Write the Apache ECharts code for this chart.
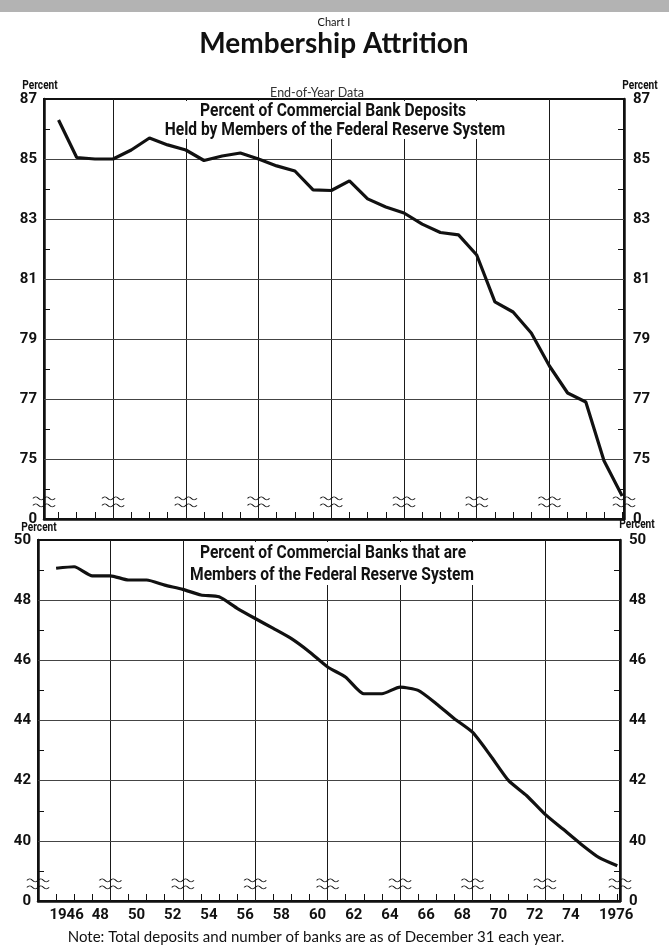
<!DOCTYPE html>
<html><head><meta charset="utf-8">
<script src="https://cdn.jsdelivr.net/npm/echarts@6/dist/echarts.min.js"></script>
<style>html,body{margin:0;padding:0;background:#fff}#c{width:669px;height:949px}</style>
</head><body><div id="c"></div>
<script>
// ---- data ----
const years = [1946,1947,1948,1949,1950,1951,1952,1953,1954,1955,1956,1957,1958,1959,1960,1961,
               1962,1963,1964,1965,1966,1967,1968,1969,1970,1971,1972,1973,1974,1975,1976,1977];
const depositShare = [86.3,85.05,85.0,85.0,85.3,85.7,85.47,85.3,84.95,85.1,85.2,85.0,84.77,84.6,83.97,83.95,
                      84.27,83.67,83.4,83.2,82.83,82.55,82.47,81.8,80.24,79.9,79.2,78.1,77.2,76.9,74.94,73.77];
const bankShare = [49.06,49.11,48.81,48.81,48.67,48.67,48.5,48.36,48.17,48.11,47.73,47.39,47.06,46.72,46.28,45.78,
                   45.44,44.89,44.89,45.11,45.0,44.56,44.06,43.61,42.83,42.0,41.5,40.89,40.39,39.89,39.44,39.17];
const xTickYears = [1946,1947,1948,1949,1950,1951,1952,1953,1954,1955,1956,1957,1958,1959,1960,1961,
                    1962,1963,1964,1965,1966,1967,1968,1969,1970,1971,1972,1973,1974,1975,1976,1977];
const xLabelYears = [1946,1948,1950,1952,1954,1956,1958,1960,1962,1964,1966,1968,1970,1972,1974,1976];
const verticalGridYears = [1949,1953,1957,1961,1965,1969,1973];
const topLabelValues = [73,75,77,79,81,83,85,87];
const topTickValues = [74,75,76,77,78,79,80,81,82,83,84,85,86];
const topGridValues = [75,77,79,81,83,85];
const bottomLabelValues = [38,40,42,44,46,48,50];
const bottomTickValues = [39,40,41,42,43,44,45,46,47,48,49];
const bottomGridValues = [40,42,44,46,48];

// ---- styling ----
const INK = '#111';
const BOLD = "Roboto,'Liberation Sans',sans-serif";
const GEO = "Lato,'DejaVu Sans',sans-serif";
const topX = {min:1945.2, max:1977.1};
const botX = {min:1945.0, max:1977.15};
const topY = {min:73, max:87, breakAt:73.57};
const botY = {min:38, max:50, breakAt:38.57};
const wave = 'path://M0,3 Q2.5,0 5,3 T10,3 T15,3 T20,3 M0,10 Q2.5,7 5,10 T10,10 T15,10 T20,10';
const lab = {fontFamily:BOLD, fontWeight:'bold', fontSize:15, color:INK};

function xAxis(gi, ext, showLabels){
  return {type:'value', gridIndex:gi, min:ext.min, max:ext.max,
    axisLine:{show:true, onZero:false, lineStyle:{color:INK, width:2.5}},
    axisTick:{show:true, inside:true, length:7, customValues:xTickYears, lineStyle:{color:INK, width:1}},
    axisLabel:{show:showLabels, customValues:xLabelYears, align:'center', margin:7,
      showMinLabel:true, showMaxLabel:true, hideOverlap:false,
      color:INK, fontFamily:BOLD, fontWeight:'bold', fontSize:15,
      formatter:v => v===1946 ? '{b|1946}' : (v===1976 ? '{c|1976}' : '{a|'+String(v).slice(2)+'}'),
      rich:{a:Object.assign({padding:[0,0,0,16]}, lab),
            b:Object.assign({padding:[0,0,0,21]}, lab),
            c:Object.assign({padding:[0,0,0,34]}, lab)}},
    splitLine:{show:false}};
}
function yAxis(gi, ext, pos, labels, ticks){
  return {type:'value', gridIndex:gi, position:pos, min:ext.min, max:ext.max,
    axisLine:{show:true, onZero:false, lineStyle:{color:INK, width:2.5}},
    axisTick:{show:true, inside:true, length:6, customValues:ticks, lineStyle:{color:INK, width:1}},
    axisLabel:{customValues:labels, margin:pos==='left'?7:9, color:INK, fontFamily:BOLD,
      showMinLabel:true, showMaxLabel:true,
      fontWeight:'bold', fontSize:15, formatter:v => v===ext.min ? '0' : String(v)},
    splitLine:{show:false}};
}
function gridLines(hVals){
  return {silent:true, symbol:['none','none'], animation:false, label:{show:false},
    data:[...verticalGridYears.map(y=>({xAxis:y, lineStyle:{color:'#1a1a1a', width:1, type:'solid'}})),
          ...hVals.map(v=>({yAxis:v, lineStyle:{color:'#444', width:1, type:'solid'}}))]};
}
function breaks(ext, yb){
  const xs = [ext.min, ...verticalGridYears, ext.max];
  return {silent:true, animation:false, symbol:wave, symbolSize:[22,10], label:{show:false},
    itemStyle:{color:'rgba(0,0,0,0)', borderColor:INK, borderWidth:1},
    data:xs.map(x=>({coord:[x, yb]}))};
}
function txt(x, y, text, font, sx, fill){
  return {type:'text', x:x, y:y, scaleX:sx||1, z:50,
    style:{text:text, font:font, fill:fill||INK, align:'center', verticalAlign:'middle'}};
}

const chart = echarts.init(document.getElementById('c'), null, {renderer:'canvas'});
chart.setOption({
  backgroundColor:'#fff',
  animation:false,
  grid:[
    {left:44, top:99, width:580, height:420, show:true, borderColor:INK, borderWidth:2, backgroundColor:'transparent'},
    {left:38, top:540, width:582, height:361, show:true, borderColor:INK, borderWidth:2, backgroundColor:'transparent'}
  ],
  xAxis:[xAxis(0, topX, false), xAxis(1, botX, true)],
  yAxis:[yAxis(0, topY, 'left', topLabelValues, topTickValues), yAxis(0, topY, 'right', topLabelValues, topTickValues),
         yAxis(1, botY, 'left', bottomLabelValues, bottomTickValues), yAxis(1, botY, 'right', bottomLabelValues, bottomTickValues)],
  series:[
    {type:'line', xAxisIndex:0, yAxisIndex:0, data:years.map((y,i)=>[y, depositShare[i]]),
     showSymbol:false, lineStyle:{color:INK, width:3.2}, z:5,
     markLine:gridLines(topGridValues), markPoint:breaks(topX, topY.breakAt)},
    {type:'line', xAxisIndex:1, yAxisIndex:2, data:years.map((y,i)=>[y, bankShare[i]]),
     showSymbol:false, smooth:0.2, lineStyle:{color:INK, width:3.2}, z:5,
     markLine:gridLines(bottomGridValues), markPoint:breaks(botX, botY.breakAt)}
  ],
  graphic:[
    {type:'rect', left:0, top:0, shape:{width:669, height:12}, style:{fill:'#b3b3b3'}, z:50},
    txt(334, 22, 'Chart I', '11px '+GEO),
    txt(334, 44, 'Membership Attrition', 'bold 28px '+GEO),
    txt(317, 93, 'End-of-Year Data', '12.5px '+GEO, 1, '#333'),
    txt(40, 86, 'Percent', 'bold 13px '+BOLD, 0.78),
    txt(640, 86, 'Percent', 'bold 13px '+BOLD, 0.78),
    txt(39, 528, 'Percent', 'bold 13px '+BOLD, 0.78),
    txt(637, 525, 'Percent', 'bold 13px '+BOLD, 0.78),
    {type:'rect', left:163, top:101, shape:{width:345, height:38}, style:{fill:'#fff'}, z:40},
    txt(333, 111, 'Percent of Commercial Bank Deposits', 'bold 19px '+BOLD, 0.82),
    txt(335, 130, 'Held by Members of the Federal Reserve System', 'bold 19px '+BOLD, 0.82),
    {type:'rect', left:189, top:542, shape:{width:288, height:43}, style:{fill:'#fff'}, z:40},
    txt(333, 553, 'Percent of Commercial Banks that are', 'bold 19px '+BOLD, 0.82),
    txt(332, 575, 'Members of the Federal Reserve System', 'bold 19px '+BOLD, 0.82),
    txt(316, 937, 'Note: Total deposits and number of banks are as of December 31 each year.', '15px '+GEO)
  ]
});
</script></body></html>
